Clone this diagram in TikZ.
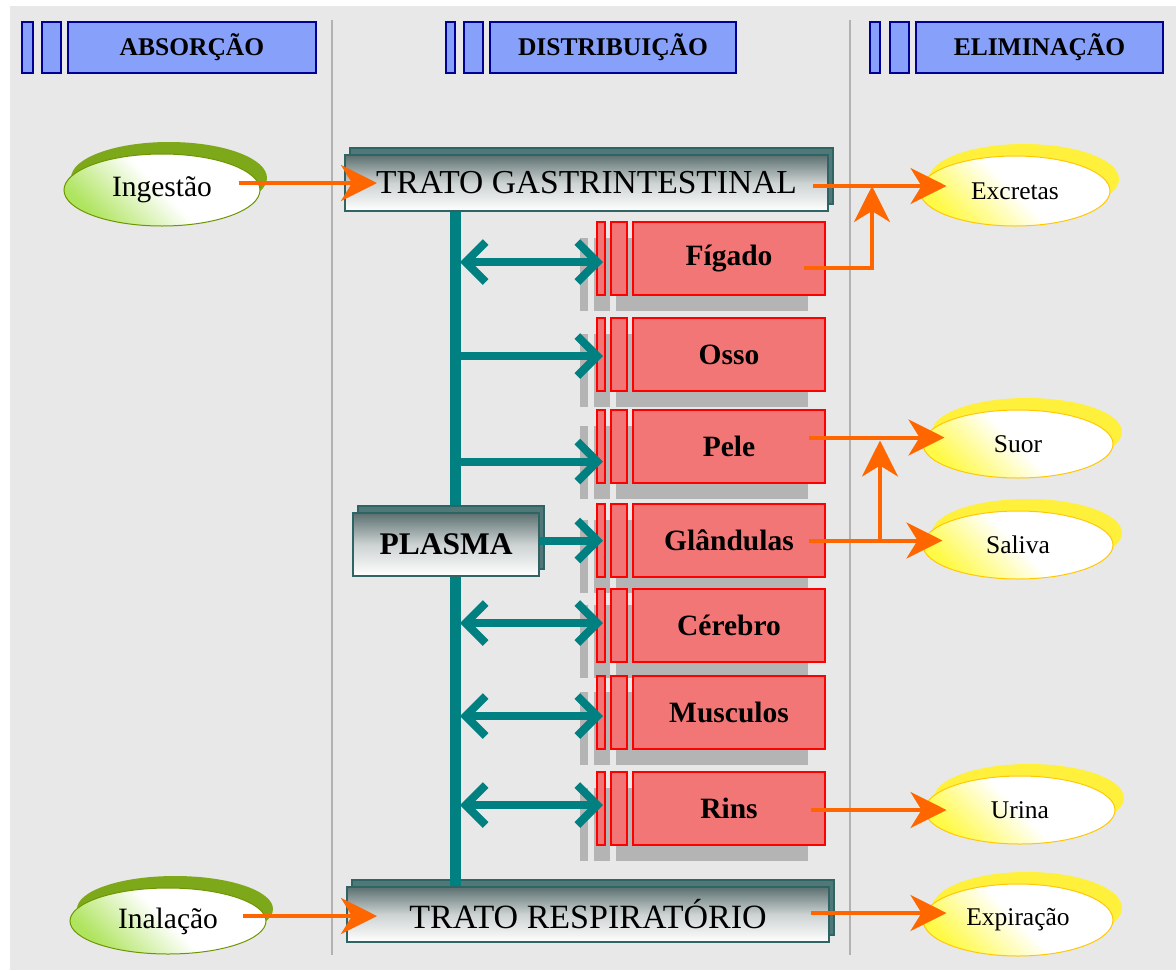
\documentclass[tikz,border=0pt]{standalone}
\usepackage{fontspec}
\setmainfont{Liberation Serif}
\usetikzlibrary{arrows.meta,shapes.geometric,shadows,calc}

\definecolor{bgc}{RGB}{232,232,232}
\definecolor{sepc}{RGB}{178,178,178}
\definecolor{hdrfill}{RGB}{135,160,250}
\definecolor{hdrdraw}{RGB}{0,0,150}
\definecolor{tealc}{RGB}{0,128,128}
\definecolor{bdark}{RGB}{47,100,100}
\definecolor{btop}{RGB}{92,112,112}
\definecolor{bmid}{RGB}{205,210,210}
\definecolor{bback}{RGB}{80,120,120}
\definecolor{redfill}{RGB}{242,118,118}
\definecolor{reddraw}{RGB}{255,0,0}
\definecolor{shadowc}{RGB}{180,180,180}
\definecolor{orangec}{RGB}{255,102,0}
\definecolor{grim}{RGB}{125,168,25}
\definecolor{gedge}{RGB}{110,150,0}
\definecolor{glight}{RGB}{175,228,95}
\definecolor{yrim}{RGB}{255,240,60}
\definecolor{yedge}{RGB}{255,200,0}
\definecolor{ylight}{RGB}{255,250,70}

% an organ: two narrow tabs and a labelled box, all over a gray drop shadow
\newcommand\organbox[3]{%
  \fill[shadowc] (580,{#2-20.5}) rectangle (588,{#2+52.5});
  \fill[shadowc] (594,{#2-20.5}) rectangle (610,{#2+52.5});
  \fill[shadowc] (616,{#2-20.5}) rectangle (808,{#2+52.5});
  \node[rbar, minimum width=8pt]  (#1a) at (601,#2) {};
  \node[rbar, minimum width=16pt] (#1b) at (619,#2) {};
  \node[rbox] (#1) at (729,#2) {#3};}

\begin{document}
\begin{tikzpicture}[x=1pt, y=-1pt,
  hdr/.style={draw=hdrdraw, line width=2pt, fill=hdrfill, inner sep=0pt,
    minimum height=51pt, font=\bfseries\fontsize{25.5}{28}\selectfont},
  sepline/.style={draw=sepc, line width=2pt},
  box3d/.style={draw=bdark, line width=2pt, top color=btop, bottom color=white,
    middle color=bmid, inner sep=0pt,
    general shadow={fill=bback, draw=bdark, line width=2pt, shadow xshift=5pt, shadow yshift=7pt}},
  rbar/.style={draw=reddraw, line width=2pt, fill=redfill, minimum height=73pt, inner sep=0pt},
  rbox/.style={rbar, minimum width=192pt, font=\bfseries\fontsize{29.5}{32}\selectfont},
  gblob/.style={ellipse, inner sep=0pt, minimum width=196pt, draw=gedge, line width=1pt,
    top color=white, bottom color=glight, middle color=white, shading angle=-45,
    general shadow={fill=grim, shadow xshift=7pt, shadow yshift=12pt},
    font=\fontsize{29.5}{32}\selectfont},
  yblob/.style={ellipse, inner sep=0pt, minimum width=190pt, draw=yedge, line width=1pt,
    top color=white, bottom color=ylight, middle color=white, shading angle=-45,
    general shadow={fill=yrim, shadow xshift=9pt, shadow yshift=12pt},
    font=\fontsize{25.5}{28}\selectfont},
  trunk/.style={draw=tealc, line width=11pt},
  tline/.style={draw=tealc, line width=8pt},
  tarr/.style={tline, -{Straight Barb[length=20pt,width=40pt]}},
  tarr2/.style={tline, {Straight Barb[length=20pt,width=40pt]}-{Straight Barb[length=20pt,width=40pt]}},
  oarr/.style={draw=orangec, line width=4pt, -{Stealth[length=36pt,width=36pt,inset=11pt]}}
]
\useasboundingbox (0,0) rectangle (1176,970);
\fill[white] (0,0) rectangle (1176,970);
\fill[bgc] (10,6) rectangle (1176,970);

% column separators
\draw[sepline] (332,20) -- (332,955);
\draw[sepline] (850,20) -- (850,955);

% column headers
\node[hdr, minimum width=11pt] (h1a) at (27.5,47.5) {};
\node[hdr, minimum width=19pt] (h1b) at (51.5,47.5) {};
\node[hdr, minimum width=248pt] (h1) at (192,47.5) {ABSORÇÃO};
\node[hdr, minimum width=9pt] (h2a) at (450.5,47.5) {};
\node[hdr, minimum width=19pt] (h2b) at (473.5,47.5) {};
\node[hdr, minimum width=246pt] (h2) at (613,47.5) {DISTRIBUIÇÃO};
\node[hdr, minimum width=10pt] (h3a) at (875,47.5) {};
\node[hdr, minimum width=19pt] (h3b) at (899.5,47.5) {};
\node[hdr, minimum width=247pt] (h3) at (1039.5,47.5) {ELIMINAÇÃO};

% absorption routes
\node[gblob, minimum height=72pt] (ing) at (162,190) {Ingestão};
\node[gblob, minimum height=66pt] (ina) at (168,921) {Inalação};

% elimination routes
\node[yblob, minimum height=70pt] (exc) at (1015,191) {Excretas};
\node[yblob, minimum height=68pt] (suor) at (1018,444) {Suor};
\node[yblob, minimum height=68pt] (sal) at (1018,545) {Saliva};
\node[yblob, minimum height=68pt] (uri) at (1020,810) {Urina};
\node[yblob, minimum height=72pt] (exp) at (1018,920) {Expiração};

% entry tracts
\node[box3d, minimum width=483pt, minimum height=56pt, font=\fontsize{33.5}{36}\selectfont] (tgi) at (586.5,183) {TRATO GASTRINTESTINAL};
\node[box3d, minimum width=482pt, minimum height=55pt, font=\fontsize{34}{36}\selectfont] (tr) at (588,914.5) {TRATO RESPIRATÓRIO};

% plasma trunk
\coordinate (tx) at (455,0);
\draw[trunk] (tgi.south -| tx) -- (tr.north -| tx);
\node[box3d, minimum width=186pt, minimum height=63pt, font=\bfseries\fontsize{31.5}{34}\selectfont] (plasma) at (446,544.5) {PLASMA};

% organs
\organbox{fig}{258.5}{Fígado}
\organbox{oss}{354.5}{Osso}
\organbox{pel}{446.5}{Pele}
\organbox{gla}{540.5}{Glândulas}
\organbox{cer}{625}{Cérebro}
\organbox{mus}{712}{Musculos}
\organbox{rin}{808.5}{Rins}

% exchanges between plasma and organs
\draw[tarr2] ($(tx |- figa)+(5,3.5)$) -- ($(figa.center)+(2,3.5)$);
\draw[tarr]  ($(tx |- ossa)+(0,1.5)$) -- ($(ossa.center)+(2,1.5)$);
\draw[tarr]  ($(tx |- pela)+(0,15)$) -- ($(pela.center)+(2,15)$);
\draw[tarr]  (plasma.east |- glaa) -- ($(glaa.center)+(2,0)$);
\draw[tarr2] ($(tx |- cera)+(5,-2)$) -- ($(cera.center)+(2,-2)$);
\draw[tarr2] ($(tx |- musa)+(5,4)$) -- ($(musa.center)+(2,4)$);
\draw[tarr2] ($(tx |- rina)+(5,-3.5)$) -- ($(rina.center)+(2,-3.5)$);

% absorption and elimination flows
\draw[oarr] ($(tgi.west -| ing.east)+(-22,0)$) -- ($(tgi.west)+(33,0)$);
\draw[oarr] ($(tgi.east)+(-16,3)$) -- ($(tgi.east -| exc.west)+(27,3)$);
\coordinate (j1) at (872,186);
\draw[oarr] ($(fig.east)+(-22,9)$) -| (j1);
\draw[oarr] ($(pel.east)+(-17,-9)$) -- ($(pel.east -| suor.west)+(22,-9)$);
\draw[oarr] ($(gla.east)+(-17,0)$) -- ($(gla.east -| sal.west)+(20,0)$);
\coordinate (j2) at ($(gla.east)+(54,0)$);
\draw[oarr] (j2) -- ($(j2 |- pel.east)+(0,-6)$);
\draw[oarr] ($(rin.east)+(-15,1.5)$) -- ($(rin.east -| uri.west)+(22,1.5)$);
\draw[oarr] ($(tr.east)+(-19,-1.5)$) -- ($(tr.east -| exp.west)+(24,-1.5)$);
\draw[oarr] ($(tr.west -| ina.east)+(-24,1.5)$) -- ($(tr.west)+(31,1.5)$);
\end{tikzpicture}
\end{document}
